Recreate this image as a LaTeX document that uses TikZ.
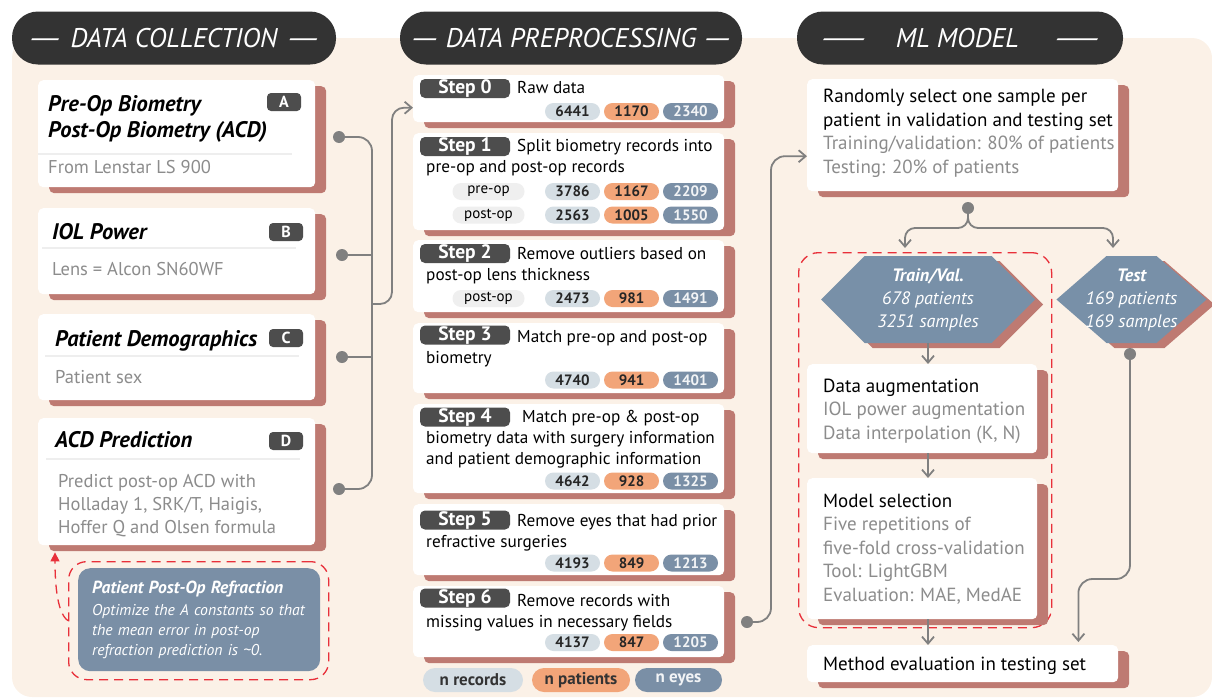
\documentclass[tikz,border=0pt]{standalone}
\usepackage{fontspec}
\setmainfont{PT Sans}
\usetikzlibrary{shapes,shadows,arrows.meta,positioning}

\definecolor{headc}{HTML}{333333}
\definecolor{bgc}{HTML}{FBF1E7}
\definecolor{shadowc}{HTML}{BE7A72}
\definecolor{badgec}{HTML}{4D4D4D}
\definecolor{recc}{HTML}{D5DEE4}
\definecolor{patc}{HTML}{F2A579}
\definecolor{eyec}{HTML}{7A8FA6}
\definecolor{hexc}{HTML}{7890A8}
\definecolor{linec}{HTML}{808080}
\definecolor{redc}{HTML}{E8303A}
\definecolor{greytxt}{HTML}{8C8C8C}
\definecolor{sepc}{HTML}{EEEEEE}
\definecolor{labc}{HTML}{EFEFEF}

\begin{document}
\begin{tikzpicture}[x=1pt,y=-1pt]
\tikzset{
head/.style={fill=headc, text=white, rounded corners=26, minimum width=324, minimum height=53, inner sep=0, font=\itshape\fontsize{27}{27}\selectfont},
card/.style={fill=white, rounded corners=5, anchor=north west, inner sep=0, drop shadow={shadow xshift=11pt, shadow yshift=-6pt, fill=shadowc, opacity=1}},
ttl/.style={anchor=base west, inner sep=0, align=left, font=\bfseries\itshape\fontsize{22.5}{26}\selectfont},
sub/.style={anchor=base west, inner sep=0, align=left, text=greytxt, font=\fontsize{18.5}{23}\selectfont},
letter/.style={fill=badgec, text=white, rounded corners=4, minimum width=34, minimum height=18, inner sep=0, font=\bfseries\fontsize{16}{16}\selectfont},
sepline/.style={sepc, line width=1.5},
stepno/.style={fill=badgec, text=white, rounded corners=5, minimum width=90, minimum height=19, inner sep=0, font=\bfseries\fontsize{19.5}{19.5}\selectfont},
steptxt/.style={anchor=base west, inner sep=0, align=left, font=\fontsize{17.2}{20.8}\selectfont},
mltxt/.style={anchor=base west, inner sep=0, align=left, font=\fontsize{19}{23.5}\selectfont},
pill/.style={rounded corners=8.5, minimum width=55, minimum height=17, inner sep=0, font=\bfseries\fontsize{15}{15}\selectfont},
nrec/.style={pill, fill=recc, text=black!85},
npat/.style={pill, fill=patc, text=black!85},
neye/.style={pill, fill=eyec, text=white!90!eyec},
nlab/.style={pill, fill=labc, minimum width=72, font=\fontsize{15}{15}\selectfont},
legend/.style={rounded corners=12, minimum height=24, inner sep=0, font=\bfseries\fontsize{17}{17}\selectfont},
hexa/.style={signal, signal to=east and west, signal pointer angle=90, fill=hexc, text=white, inner sep=0, minimum height=87, align=center, font=\itshape\fontsize{18}{23}\selectfont, drop shadow={shadow xshift=8pt, shadow yshift=-5pt, fill=shadowc, opacity=1}},
conn/.style={linec, line width=1.8},
myarrow/.style={conn, -{Straight Barb[length=7pt,width=12pt]}},
dot/.style={circle, fill=linec, minimum size=12, inner sep=0},
reddash/.style={redc, line width=1.3, dash pattern=on 9pt off 6pt},
}

\useasboundingbox (0,0) rectangle (1212,699);
\fill[bgc, rounded corners=20] (12,38) rectangle (1212,697);

\node[head] (hcol) at (174,38) {\scalebox{1.8}[1]{—}\hspace{0.25em}DATA COLLECTION\hspace{0.25em}\scalebox{1.8}[1]{—}};
\node[head, minimum width=342] (hpre) at (571,38) {\scalebox{1.5}[1]{—}\hspace{0.2em}DATA PREPROCESSING\hspace{0.2em}\scalebox{1.5}[1]{—}};
\node[head, minimum width=326] (hml) at (960,38) {\scalebox{2.7}[1]{—}\hspace{0.9em}ML MODEL\hspace{1.1em}\scalebox{2.7}[1]{—}};

\node[card, minimum width=277, minimum height=107] (srcA) at (38,80) {};
\node[card, minimum width=277, minimum height=86] (srcB) at (38,208) {};
\node[card, minimum width=277, minimum height=86] (srcC) at (38,314) {};
\node[card, minimum width=277, minimum height=127] (srcD) at (38,418) {};

\node[ttl] (tA) at (48,137) {Pre-Op Biometry\\Post-Op Biometry (ACD)};
\node[letter] (bA) at (284,102) {A};
\draw[sepline] (38,154) -- (292,154);
\node[sub] (sA) at (48,173) {From Lenstar LS 900};

\node[ttl] (tB) at (52,239) {IOL Power};
\node[letter] (bB) at (286,232) {B};
\draw[sepline] (42,248) -- (296,248);
\node[sub] (sB) at (52,275) {Lens = Alcon SN60WF};

\node[ttl] (tC) at (55,346) {Patient Demographics};
\node[letter] (bC) at (286,338) {C};
\draw[sepline] (45,356) -- (299,356);
\node[sub] (sC) at (55,383) {Patient sex};

\node[ttl] (tD) at (55,447) {ACD Prediction};
\node[letter] (bD) at (286,441) {D};
\draw[sepline] (46,459) -- (300,459);
\node[sub] (sD) at (58,533) {Predict post-op ACD with\\Holladay 1, SRK/T, Haigis,\\Hoffer Q and Olsen formula};

\node[reddash, draw, rounded corners=18, minimum width=260, minimum height=118, anchor=north west] (refdash) at (68,561) {};
\node[fill=eyec, rounded corners=12, minimum width=242, minimum height=103, anchor=north west, text width=214, inner xsep=14, align=left, text=white, font=\itshape\fontsize{15.7}{20}\selectfont] (refr) at (78,568) {{\bfseries\fontsize{17.5}{20}\selectfont Patient Post-Op Refraction}\\[2pt]Optimize the A constants so that\\the mean error in post-op\\refraction prediction is \textasciitilde 0.};
\coordinate (acdin) at ([xshift=17pt,yshift=-7pt]srcD.south west);
\draw[reddash, -{Triangle[length=9pt,width=9pt]}] (refdash.west) .. controls +(-12,-8) and +(0,25) .. (acdin);

\node[card, minimum width=311, minimum height=47] (s0) at (413,75) {};
\node[card, minimum width=311, minimum height=97] (s1) at (413,133) {};
\node[card, minimum width=311, minimum height=72] (s2) at (413,240) {};
\node[card, minimum width=311, minimum height=70] (s3) at (413,323) {};
\node[card, minimum width=311, minimum height=89] (s4) at (413,404) {};
\node[card, minimum width=311, minimum height=71] (s5) at (413,504) {};
\node[card, minimum width=311, minimum height=71] (s6) at (413,586) {};

\node[stepno] (n0) at (465,88.5) {Step 0};
\node[stepno] (n1) at (465,146.5) {Step 1};
\node[stepno] (n2) at (465,253.5) {Step 2};
\node[stepno] (n3) at (465,335) {Step 3};
\node[stepno] (n4) at (465,417) {Step 4};
\node[stepno] (n5) at (465,520) {Step 5};
\node[stepno] (n6) at (465,598) {Step 6};

\node[steptxt] (t0) at (517,93) {Raw data};
\node[steptxt] (t1) at (426,172) {\hspace{91pt}Split biometry records into\\pre-op and post-op records};
\node[steptxt] (t2) at (426,280) {\hspace{91pt}Remove outliers based on\\post-op lens thickness};
\node[steptxt] (t3) at (426,363) {\hspace{91pt}Match pre-op and post-op\\biometry};
\node[steptxt] (t4) at (426,464) {\hspace{96pt}Match pre-op \& post-op\\biometry data with surgery information\\and patient demographic information};
\node[steptxt] (t5) at (426,547) {\hspace{91pt}Remove eyes that had prior\\refractive surgeries};
\node[steptxt] (t6) at (426,627) {\hspace{91pt}Remove records with\\missing values in necessary fields};

\node[nrec] (r0) at (572.5,111.5) {6441};
\node[npat] (p0) at (631.5,111.5) {1170};
\node[neye] (e0) at (690.5,111.5) {2340};
\node[nlab] (l1a) at (488.5,191.5) {pre-op};
\node[nrec] (r1a) at (572.5,191.5) {3786};
\node[npat] (p1a) at (631.5,191.5) {1167};
\node[neye] (e1a) at (690.5,191.5) {2209};
\node[nlab] (l1b) at (488.5,215) {post-op};
\node[nrec] (r1b) at (572.5,215) {2563};
\node[npat] (p1b) at (631.5,215) {1005};
\node[neye] (e1b) at (690.5,215) {1550};
\node[nlab] (l2) at (488.5,298.5) {post-op};
\node[nrec] (r2) at (572.5,298.5) {2473};
\node[npat] (p2) at (631.5,298.5) {981};
\node[neye] (e2) at (690.5,298.5) {1491};
\node[nrec] (r3) at (572.5,380) {4740};
\node[npat] (p3) at (631.5,380) {941};
\node[neye] (e3) at (690.5,380) {1401};
\node[nrec] (r4) at (572.5,481) {4642};
\node[npat] (p4) at (631.5,481) {928};
\node[neye] (e4) at (690.5,481) {1325};
\node[nrec] (r5) at (572.5,563) {4193};
\node[npat] (p5) at (631.5,563) {849};
\node[neye] (e5) at (690.5,563) {1213};
\node[nrec] (r6) at (572.5,642.5) {4137};
\node[npat] (p6) at (631.5,642.5) {847};
\node[neye] (e6) at (690.5,642.5) {1205};

\node[legend, fill=recc, text=black!80, minimum width=100] (lgr) at (473,680) {n records};
\node[legend, fill=patc, text=black!80, minimum width=98] (lgp) at (581,680) {n patients};
\node[legend, fill=eyec, text=white!90!eyec, minimum width=87] (lge) at (678.5,680) {n eyes};

\node[dot] (dotA) at (339,137) {};
\node[dot] (dotB) at (342,255) {};
\node[dot] (dotC) at (342,357) {};
\node[dot] (dotD) at (339,489) {};
\coordinate (junc) at (372,304);
\coordinate (in0) at ([yshift=-9pt]s0.west);
\draw[conn, rounded corners=14] (dotA) -| (dotD -| junc) -- (dotD);
\draw[conn] (dotB) -- (dotB -| junc);
\draw[conn] (dotC) -- (dotC -| junc);
\draw[myarrow, rounded corners=12] (junc) -| ([xshift=-21pt]in0) -- (in0);

\node[card, minimum width=311, minimum height=112] (sel) at (807,79) {};
\node[mltxt] (selt) at (823,173) {Randomly select one sample per\\patient in validation and testing set\\\textcolor{greytxt}{Training/validation: 80\% of patients}\\\textcolor{greytxt}{Testing: 20\% of patients}};

\node[dot] (dot6) at (747,622) {};
\coordinate (in1) at ([yshift=-21pt]sel.west);
\draw[myarrow, rounded corners=14] (dot6) -| ([xshift=-36pt]in1) -- (in1);

\node[reddash, draw, rounded corners=20, minimum width=253, minimum height=375, anchor=north west] (mlframe) at (798,252) {};

\node[hexa, minimum width=214] (tv) at (928,299.5) {\textbf{Train/Val.}\\678 patients\\3251 samples};
\node[hexa, signal pointer angle=82, minimum width=149] (ts) at (1131.5,299.5) {\makebox[50pt]{\textbf{Test}}\\\makebox[50pt]{169 patients}\\\makebox[50pt]{169 samples}};

\node[dot] (dotS) at (968,208) {};
\coordinate (tvin) at (905,248);
\coordinate (tsin) at (1113,248);
\draw[myarrow, rounded corners=10] (dotS) |- ([yshift=20pt]tvin) -- (tvin);
\draw[myarrow, rounded corners=10] (dotS) |- ([yshift=20pt]tsin) -- (tsin);

\node[card, minimum width=230, minimum height=89] (aug) at (807,364) {};
\node[mltxt] (augt) at (823,439) {Data augmentation\\\textcolor{greytxt}{IOL power augmentation}\\\textcolor{greytxt}{Data interpolation (K, N)}};
\node[card, minimum width=230, minimum height=141] (msel) at (807,478) {};
\node[mltxt] (mselt) at (823,601) {Model selection\\\textcolor{greytxt}{Five repetitions of}\\\textcolor{greytxt}{five-fold cross-validation}\\\textcolor{greytxt}{Tool: LightGBM}\\\textcolor{greytxt}{Evaluation: MAE, MedAE}};
\node[card, minimum width=311, minimum height=37] (meval) at (807,645) {};
\node[mltxt] (mevalt) at (823,670) {Method evaluation in testing set};

\draw[myarrow] (tv.south) -- (tv.south |- aug.north);
\draw[myarrow] (tv.south |- aug.south) -- (tv.south |- msel.north);
\draw[myarrow] (tv.south |- msel.south) -- (tv.south |- meval.north);

\node[dot] (dotT) at (1130,354) {};
\coordinate (evin) at ([xshift=-40pt,yshift=3pt]meval.north east);
\draw[myarrow, rounded corners=14] (dotT) |- ([yshift=63pt]evin) -- (evin);
\end{tikzpicture}
\end{document}
